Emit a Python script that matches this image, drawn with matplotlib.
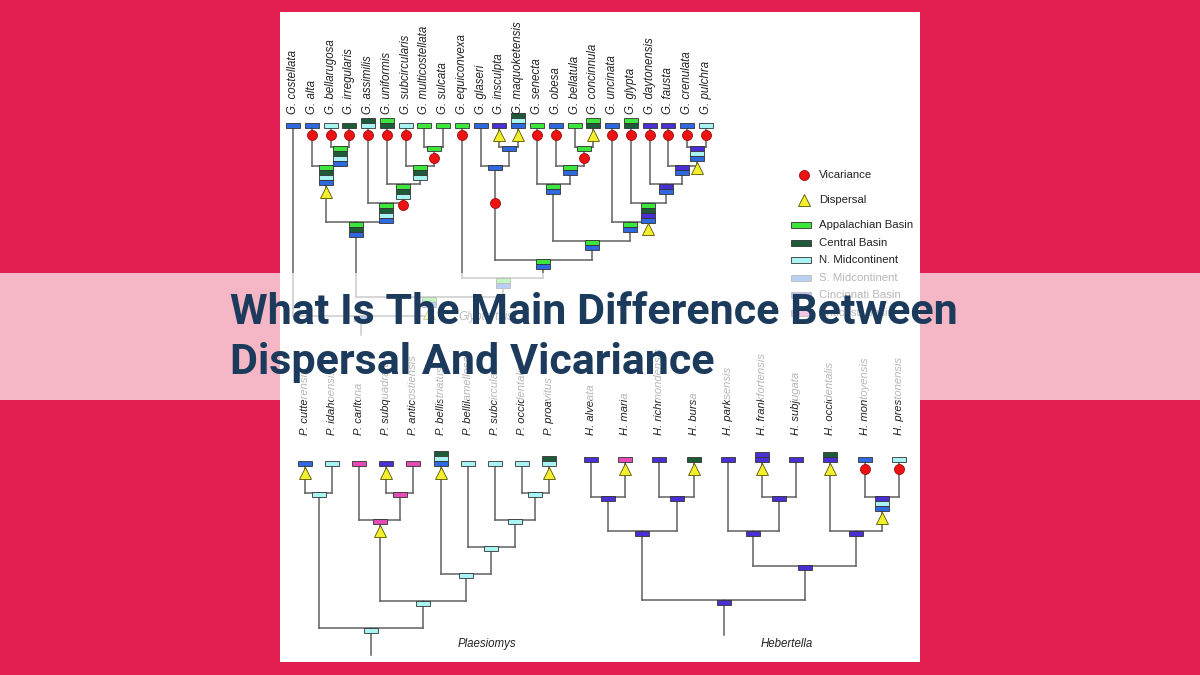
import matplotlib
matplotlib.use('Agg')
import matplotlib.pyplot as plt
from matplotlib.patches import Rectangle

plt.rcParams['font.family'] = ['Liberation Sans', 'DejaVu Sans']

# areas: code -> legend text, colour
area_codes = ['A', 'C', 'N', 'S', 'I', 'K']
area_names = ['Appalachian Basin', 'Central Basin', 'N. Midcontinent',
              'S. Midcontinent', 'Cincinnati Basin', 'Anticosti Basin']
area_colors = ['#3de63d', '#1c5a38', '#a9f3f3', '#2f69df', '#4a2fd4', '#e64ab6']
area_color = dict(zip(area_codes, area_colors))

event_names = ['Vicariance', 'Dispersal']

# leaf  = (name, areas top->bottom, event)
# clade = ([children], areas top->bottom, event)
# event: 'V' vicariance, 'D' dispersal, 'V~' vicariance further down the branch

# --- Glyptorthis ---
g_alta = ([('G. alta', 'S', 'V'),
           ([('G. bellarugosa', 'N', 'V'), ('G. irregularis', 'C', 'V')], 'ACNS', '')],
          'ACNS', 'D')
g_sulc = ([('G. multicostellata', 'A', ''), ('G. sulcata', 'A', '')], 'A', 'V')
g_subc = ([('G. subcircularis', 'N', 'V'), g_sulc], 'ACN', '')
g_unif = ([('G. uniformis', 'AC', 'V'), g_subc], 'ACN', 'V')
g_assim = ([('G. assimilis', 'CN', 'V'), g_unif], 'ACNS', '')
g_left = ([g_alta, g_assim], 'ACS', '')
g_glas = ([('G. glaseri', 'S', ''),
           ([('G. insculpta', 'I', 'D'), ('G. maquoketensis', 'CNS', 'D')], 'S', '')],
          'S', 'V~')
g_conc = ([('G. bellatula', 'A', ''), ('G. concinnula', 'AC', 'D')], 'A', 'V')
g_obesa = ([('G. obesa', 'S', 'V'), g_conc], 'AS', '')
g_sen = ([('G. senecta', 'A', 'V'), g_obesa], 'AS', '')
g_cren = ([('G. crenulata', 'S', 'V'), ('G. pulchra', 'N', 'V')], 'INS', 'D')
g_faus = ([('G. fausta', 'I', 'V'), g_cren], 'IS', '')
g_dayt = ([('G. daytonensis', 'I', 'V'), g_faus], 'IS', '')
g_glyp = ([('G. glypta', 'AC', 'V'), g_dayt], 'ACIS', 'D')
g_unc = ([('G. uncinata', 'S', 'V'), g_glyp], 'AS', '')
g_sen_unc = ([g_sen, g_unc], 'AS', '')
g_glas_all = ([g_glas, g_sen_unc], 'AS', '')
g_equi = ([('G. equiconvexa', 'A', 'V'), g_glas_all], 'AS', '')
g_mid = ([g_left, g_equi], 'AS', 'D')
glyptorthis = ([('G. costellata', 'S', ''), g_mid], 'S', '')

# --- Plaesiomys ---
p_cut = ([('P. cutterensis', 'S', 'D'), ('P. idahoensis', 'N', '')], 'N', '')
p_subq = ([('P. subquadrata', 'I', 'D'), ('P. anticostiensis', 'K', '')], 'K', '')
p_carl = ([('P. carltona', 'K', ''), p_subq], 'K', 'D')
p_occ = ([('P. occidentalis', 'N', ''), ('P. proavitus', 'CN', 'D')], 'N', '')
p_subc = ([('P. subcircularis', 'N', ''), p_occ], 'N', '')
p_bellil = ([('P. bellilamellosa', 'N', ''), p_subc], 'N', '')
p_bellis = ([('P. bellistriatus', 'CNS', 'D'), p_bellil], 'N', '')
p_mid = ([p_carl, p_bellis], 'N', '')
plaesiomys = ([p_cut, p_mid], 'N', '')

# --- Hebertella ---
h_alv = ([('H. alveata', 'I', ''), ('H. maria', 'K', 'D')], 'I', '')
h_ric = ([('H. richmondensis', 'I', ''), ('H. bursa', 'C', 'D')], 'I', '')
h_left = ([h_alv, h_ric], 'I', '')
h_fra = ([('H. frankfortensis', 'II', 'D'), ('H. subjugata', 'I', '')], 'I', '')
h_par = ([('H. parksensis', 'I', ''), h_fra], 'I', '')
h_mon = ([('H. montoyensis', 'S', 'V'), ('H. prestonensis', 'N', 'V')], 'INS', 'D')
h_occ = ([('H. occidentalis', 'CI', 'D'), h_mon], 'I', '')
h_right = ([h_par, h_occ], 'I', '')
hebertella = ([h_left, h_right], 'I', '')

title_lines = ['What Is The Main Difference Between', 'Dispersal And Vicariance']

BOX_W, BOX_H = 14, 5
LINE_C = '#606060'


def layout(node, counter):
    if isinstance(node[0], str):
        x = counter[0]
        counter[0] += 1
        return {'x': x, 'level': 0, 'node': node, 'kids': []}
    kids = [layout(c, counter) for c in node[0]]
    x = sum(k['x'] for k in kids) / len(kids)
    level = max(k['level'] for k in kids) + 1
    return {'x': x, 'level': level, 'node': node, 'kids': kids}


def draw_event(ax, ev, x, y):
    if ev.startswith('V'):
        ax.plot(x, y, 'o', ms=7.2, mfc='#ee1111', mec='#991111', mew=0.6, zorder=4)
    elif ev == 'D':
        ax.plot(x, y, '^', ms=8, mfc='#f4ef2e', mec='#555500', mew=0.6, zorder=4)


def draw_boxes(ax, areas, x, top):
    for k, a in enumerate(areas):
        ax.add_patch(Rectangle((x - BOX_W / 2, top + k * BOX_H), BOX_W, BOX_H,
                               facecolor=area_color[a], edgecolor='#333333',
                               lw=0.6, zorder=3))


def draw_tree(ax, tree, x0, dx, y0, dy, label_y, label_size):
    root = layout(tree, [0])

    def px(n):
        return x0 + n['x'] * dx

    def py(n):
        return y0 + n['level'] * dy

    def rec(n, parent_y):
        name, areas, ev = n['node']
        x, y = px(n), py(n)
        if not n['kids']:
            ax.plot([x, x], [y, parent_y], color=LINE_C, lw=1.1, zorder=2)
            draw_boxes(ax, areas, x, y - len(areas) * BOX_H)
            ax.text(x, label_y, name, rotation=90, ha='center', va='bottom',
                    fontsize=label_size, style='italic', color='#222222')
            draw_event(ax, ev, x, y + 7)
            return
        xs = [px(k) for k in n['kids']]
        ax.plot([min(xs), max(xs)], [y, y], color=LINE_C, lw=1.1, zorder=2)
        ax.plot([x, x], [y, parent_y], color=LINE_C, lw=1.1, zorder=2)
        draw_boxes(ax, areas, x, y - 0.5)
        if ev.endswith('~'):
            draw_event(ax, ev, x, y + 0.4 * (parent_y - y))
        else:
            draw_event(ax, ev, x, y + len(areas) * BOX_H + 6)
        for k in n['kids']:
            rec(k, y)

    rec(root, py(root) + dy)


fig = plt.figure(figsize=(12, 6.75), dpi=100, facecolor='#e21f50')
ax = fig.add_axes([0, 0, 1, 1])
ax.set_xlim(0, 1200)
ax.set_ylim(675, 0)
ax.axis('off')

ax.add_patch(Rectangle((280, 12), 640, 650, facecolor='white', edgecolor='none', zorder=0))

draw_tree(ax, glyptorthis, 293, 18.77, 128, 18.8, 114, 8.3)
draw_tree(ax, plaesiomys, 305, 27.1, 465.5, 27.1, 435, 8.1)
draw_tree(ax, hebertella, 591, 34.2, 462, 34.5, 435, 8.1)

ax.text(458, 317, 'Glyptorthis', style='italic', fontsize=8.3, color='#333333', va='center')
ax.text(487, 644, 'Plaesiomys', style='italic', fontsize=8.3, color='#222222',
        ha='center', va='center')
ax.text(787, 644, 'Hebertella', style='italic', fontsize=8.3, color='#222222',
        ha='center', va='center')

# legend
for i, lab in enumerate(event_names):
    ly = 175 + i * 25
    draw_event(ax, 'V' if i == 0 else 'D', 804, ly)
    ax.text(819, ly, lab, fontsize=8.2, va='center', color='#222222')
for i, (a, lab) in enumerate(zip(area_codes, area_names)):
    ly = 225 + i * 17.6
    ax.add_patch(Rectangle((791, ly - 3), 20, 6, facecolor=area_color[a],
                           edgecolor='#333333', lw=0.6, zorder=3))
    ax.text(819, ly, lab, fontsize=8.2, va='center', color='#222222')

# banner + title
ax.add_patch(Rectangle((0, 273), 1200, 127, facecolor='white', alpha=0.68,
                       edgecolor='none', zorder=10))
for i, line in enumerate(title_lines):
    ax.text(230, 324 + i * 50, line, fontsize=31, fontweight='bold',
            family=['Roboto', 'DejaVu Sans'], color='#1b3a5c',
            va='baseline', ha='left', zorder=11)

fig.savefig('out.png', dpi=100, facecolor=fig.get_facecolor())
